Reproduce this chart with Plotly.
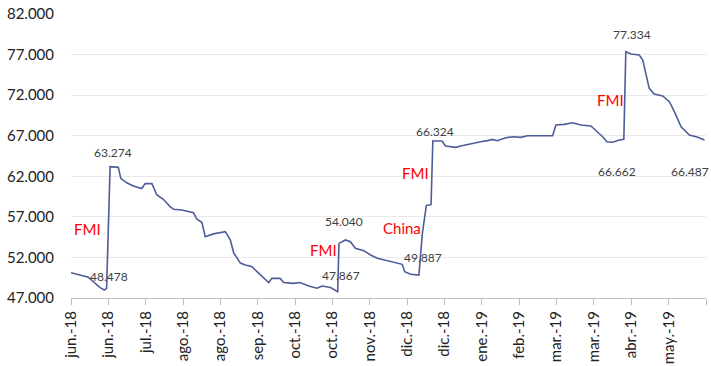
import plotly.graph_objects as go

# business-day index (x) and value (y)
day_idx = [0, 1, 3, 5, 7, 9, 10.3, 11.7, 13.4, 14.3, 15.7, 19, 20, 22.4, 25, 28.4, 29.8, 32.5,
           34.5, 37.1, 39.8, 41.2, 44.5, 49.2, 50.6, 52.6, 53.9, 57.2, 62, 64, 65.3, 68, 70,
           72.7, 74.7, 77.4, 79.4, 80.7, 84, 85.4, 89.4, 92, 95.5, 98.8, 100.8, 104.2, 107.1,
           107.6, 110.2, 112.2, 114.2, 117.6, 120.3, 123, 127, 131, 133, 134, 136.4, 139.7,
           141.1, 142.7, 144.6, 145.3, 149, 150.4, 154.5, 156.5, 159.2, 161.8, 164.5, 167.2,
           169.2, 171.2, 174.6, 177.9, 180.6, 183.3, 193.4, 194.7, 198, 201.4, 204.7, 208.8,
           211.5, 213.5, 215.2, 217.5, 220.2, 222, 222.8, 224.9, 228.2, 229.6, 232.2, 234.2,
           237.6, 240.3, 242.3, 245, 248.3, 251.7, 254.4]
values = [50.12, 50.05, 49.83, 49.7, 49.55, 49.0, 48.6, 48.27, 47.98, 48.2, 63.18, 63.1, 61.75,
          61.2, 60.8, 60.5, 61.1, 61.1, 59.7, 59.16, 58.25, 57.93, 57.85, 57.5, 56.7, 56.3,
          54.55, 54.9, 55.17, 54.15, 52.6, 51.3, 51.06, 50.86, 50.24, 49.42, 48.9, 49.42,
          49.42, 48.9, 48.8, 48.9, 48.48, 48.2, 48.48, 48.3, 47.78, 53.73, 54.15, 53.94,
          53.12, 52.83, 52.3, 51.9, 51.6, 51.27, 51.15, 50.24, 49.92, 49.83, 54.97, 58.4,
          58.5, 66.35, 66.35, 65.73, 65.57, 65.73, 65.94, 66.06, 66.26, 66.39, 66.55, 66.39,
          66.76, 66.88, 66.8, 67.0, 67.0, 68.32, 68.4, 68.6, 68.32, 68.2, 67.5, 66.88, 66.26,
          66.19, 66.47, 66.55, 77.35, 77.07, 76.95, 76.33, 72.84, 72.14, 71.9, 71.19, 69.96,
          68.11, 67.09, 66.8, 66.47]

tick_idx = [0, 15, 30, 45, 60, 75, 90, 105, 120, 135, 150, 165, 180, 195, 210, 225, 240, 255]
tick_labels = ["jun.-18", "jun.-18", "jul.-18", "ago.-18", "ago.-18", "sep.-18", "oct.-18",
               "oct.-18", "nov.-18", "dic.-18", "dic.-18", "ene.-19", "feb.-19", "mar.-19",
               "mar.-19", "abr.-19", "may.-19", ""]

y_ticks = [47, 52, 57, 62, 67, 72, 77, 82]
y_tick_labels = ["47.000", "52.000", "57.000", "62.000", "67.000", "72.000", "77.000", "82.000"]

# value labels: (x idx, y value, text)
value_labels = [(16.9, 64.9, "63.274"), (15.2, 49.65, "48.478"), (109.8, 56.45, "54.040"),
                (108.5, 49.82, "47.867"), (141.3, 52.0, "49.887"), (146.3, 67.55, "66.324"),
                (225.3, 79.5, "77.334"), (219.4, 62.6, "66.662"), (248.6, 62.6, "66.487")]
event_labels = [(6.8, 55.5, "FMI"), (101.4, 52.9, "FMI"), (133.0, 55.65, "China"),
                (138.4, 62.4, "FMI"), (216.8, 71.45, "FMI")]

fig = go.Figure()
fig.add_trace(go.Scatter(x=day_idx, y=values, mode="lines",
                         line=dict(color="#4E5C9A", width=1.6), hoverinfo="skip",
                         showlegend=False))

for xv, yv, t in value_labels:
    fig.add_annotation(x=xv, y=yv, text=t, showarrow=False,
                       font=dict(family="Lato", size=12, color="#404040"))
for xv, yv, t in event_labels:
    fig.add_annotation(x=xv, y=yv, text=t, showarrow=False,
                       font=dict(family="Lato", size=15, color="#FF0000"))

fig.update_layout(
    width=711, height=366,
    margin=dict(l=71, r=5, t=14, b=68),
    paper_bgcolor="white", plot_bgcolor="white",
    font=dict(family="Lato", color="#222222"),
    xaxis=dict(range=[0, 255], tickmode="array", tickvals=tick_idx, ticktext=tick_labels,
               tickangle=-90, tickfont=dict(size=15, color="#222222"), automargin=False,
               showgrid=False, zeroline=False, showline=True, linecolor="#BFBFBF",
               linewidth=1, ticks="outside", ticklen=6, tickcolor="#BFBFBF"),
    yaxis=dict(range=[47, 82], tickmode="array", tickvals=y_ticks, ticktext=y_tick_labels,
               tickfont=dict(size=15, color="#222222"), showgrid=True, automargin=False,
               gridcolor="#E9E9E9", gridwidth=1, zeroline=False, showline=False,
               ticks="", ticklabelstandoff=16),
)

fig.write_html("out.html")
